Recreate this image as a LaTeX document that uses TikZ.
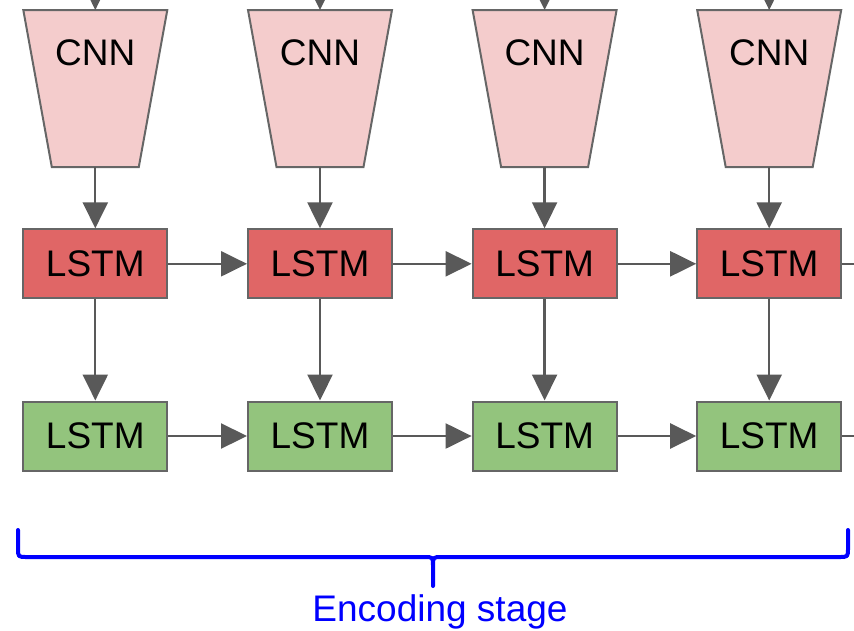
\documentclass[tikz,border=0pt]{standalone}
\usepackage{fontspec}
\setmainfont{Liberation Sans}
\usetikzlibrary{arrows.meta}
\definecolor{cnnfill}{HTML}{F4CCCC}
\definecolor{encfill}{HTML}{E06666}
\definecolor{decfill}{HTML}{93C47D}
\definecolor{edgegray}{HTML}{666666}
\definecolor{arrowgray}{HTML}{595959}
\definecolor{bracecol}{HTML}{0000FF}
\tikzset{
  lbl/.style={font=\fontsize{37}{41}\selectfont, inner sep=0pt},
  cnnshape/.style={draw=edgegray, fill=cnnfill, line width=2pt, line join=miter},
  lstmbox/.style={draw=edgegray, line width=2pt, minimum width=144pt, minimum height=69pt,
                  inner sep=0pt, font=\fontsize{37}{41}\selectfont},
  redbox/.style={lstmbox, fill=encfill},
  greenbox/.style={lstmbox, fill=decfill},
  flow/.style={draw=arrowgray, line width=2.3pt, -{Triangle[length=26pt,width=25pt]}},
  tail/.style={draw=arrowgray, line width=2.3pt},
}
\begin{document}
\begin{tikzpicture}[x=1pt,y=-1pt]
  \useasboundingbox (0,0) rectangle (854,630);
  \clip (0,0) rectangle (854,630);

  \foreach \i/\x in {1/95.3, 2/320, 3/544.6, 4/769.2} {
    % trapezoid CNN block (wide side on top)
    \path[cnnshape] (\x-72,10) -- (\x+72,10) -- (\x+43.5,167) -- (\x-43.5,167) -- cycle;
    \node[lbl] (cnn\i) at (\x,52.5) {CNN};
    \coordinate (cnntop\i) at (\x,10);
    \coordinate (cnnbot\i) at (\x,167);
    \coordinate (src\i) at (\x,-40);
    % LSTM layers
    \node[redbox]   (enc\i) at (\x,263.8) {LSTM};
    \node[greenbox] (dec\i) at (\x,436) {LSTM};
    % vertical connections
    \draw[flow] (src\i) -- (cnntop\i);
    \draw[flow] (cnnbot\i) -- (enc\i.north);
    \draw[flow] (enc\i.south) -- (dec\i.north);
  }

  % recurrent connections along each layer
  \foreach \a/\b in {1/2, 2/3, 3/4} {
    \draw[flow] (enc\a.east) -- (enc\b.west);
    \draw[flow] (dec\a.east) -- (dec\b.west);
  }
  \coordinate (encout) at (900,263.8);
  \coordinate (decout) at (900,436);
  \draw[tail] (enc4.east) -- (encout);
  \draw[tail] (dec4.east) -- (decout);

  % brace over the encoder span
  \coordinate (bl) at (18,530);
  \coordinate (br) at (848,530);
  \coordinate (bm) at (433,586);
  \draw[bracecol, line width=4pt, line cap=round, line join=round]
    (bl) -- (18,548) .. controls (18,557) .. (27,557)
    -- (424,557) .. controls (433,557) .. (433,566) -- (bm)
    (433,566) .. controls (433,557) .. (442,557)
    -- (839,557) .. controls (848,557) .. (848,548) -- (br);
  \node[lbl, text=bracecol] (stage) at (440,612) {Encoding stage};
\end{tikzpicture}
\end{document}
